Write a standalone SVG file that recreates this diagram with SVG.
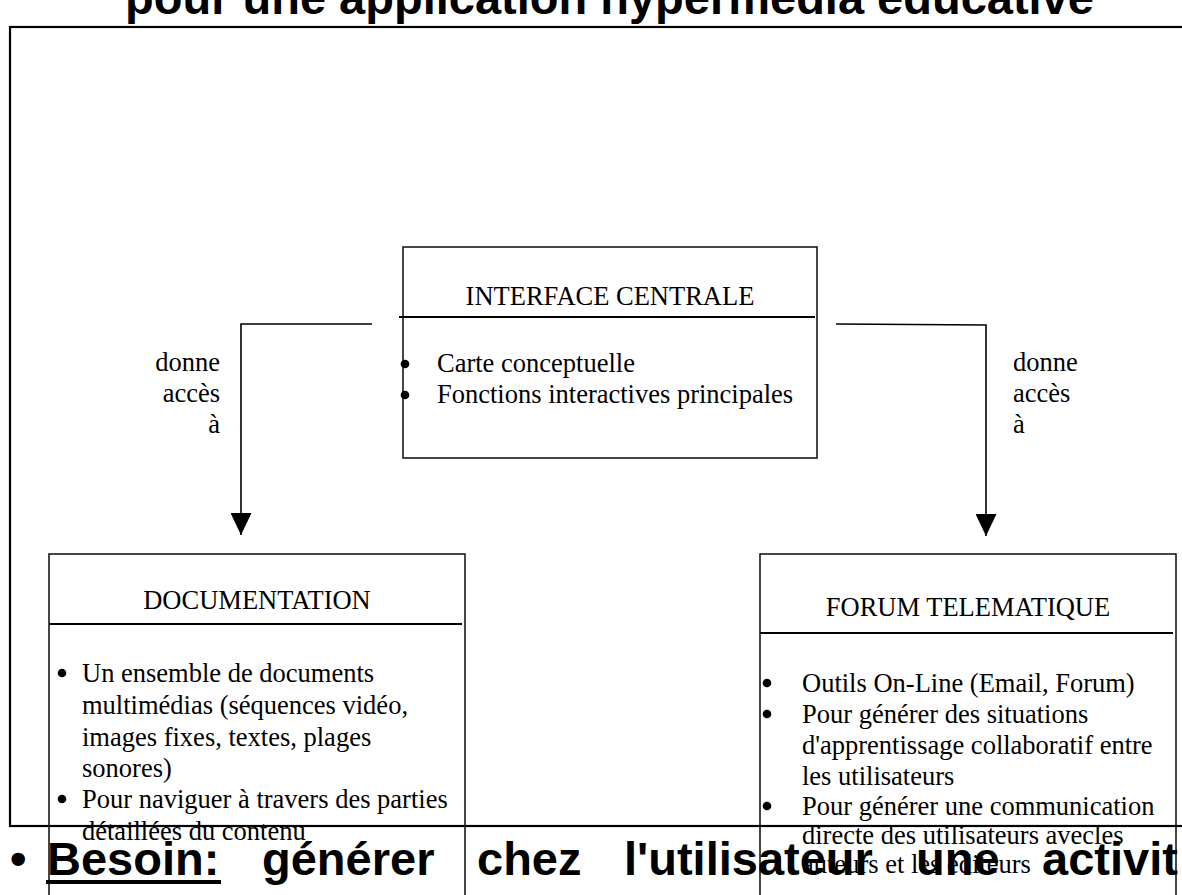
<svg xmlns="http://www.w3.org/2000/svg" width="1182" height="895" viewBox="0 0 1182 895">
<defs>
<style>
.serif{font-family:"Liberation Serif","Times New Roman",serif;font-size:26.5px;fill:#000}
.mid{text-anchor:middle}
.end{text-anchor:end}
.bold{font-family:"Liberation Sans",Arial,sans-serif;font-weight:bold;font-size:47px;fill:#000}
.box{fill:none;stroke:#1a1a1a;stroke-width:1.6}
.sep{stroke:#000;stroke-width:2.2}
.frame{fill:none;stroke:#000;stroke-width:2.2}
.conn{fill:none;stroke:#000;stroke-width:1.6}
.dot{fill:#000}
</style>
<marker id="arrow" viewBox="0 0 22 21" refX="22" refY="10.5" markerWidth="22" markerHeight="21" markerUnits="userSpaceOnUse" orient="auto">
<path d="M0,0 L22,10.5 L0,21 z" fill="#000"/>
</marker>
</defs>
<rect width="1182" height="895" fill="#fff"/>

<g id="title">
<text class="bold" x="125" y="14">pour une application hypermédia éducative</text>
</g>

<g id="frame">
<rect class="frame" x="10" y="27" width="1190" height="799"/>
</g>

<g id="interface">
<rect class="box" x="403" y="247" width="414" height="211"/>
<text class="serif mid" x="610" y="305">INTERFACE CENTRALE</text>
<line class="sep" x1="399" y1="317" x2="815" y2="317"/>
<circle class="dot" cx="405" cy="364" r="4.3"/>
<text class="serif" x="437" y="372">Carte conceptuelle</text>
<circle class="dot" cx="405" cy="395" r="4.3"/>
<text class="serif" x="437" y="403">Fonctions interactives principales</text>
</g>

<g id="documentation">
<rect class="box" x="49" y="554" width="416" height="360"/>
<text class="serif mid" x="257" y="609">DOCUMENTATION</text>
<line class="sep" x1="49" y1="624" x2="462" y2="624"/>
<circle class="dot" cx="62" cy="673" r="4.3"/>
<text class="serif" x="82" y="682">Un ensemble de documents</text>
<text class="serif" x="82" y="714">multimédias (séquences vidéo,</text>
<text class="serif" x="82" y="746">images fixes, textes, plages</text>
<text class="serif" x="82" y="777">sonores)</text>
<circle class="dot" cx="62" cy="799" r="4.3"/>
<text class="serif" x="82" y="808">Pour naviguer à travers des parties</text>
<text class="serif" x="82" y="840">détaillées du contenu</text>
</g>

<g id="forum">
<rect class="box" x="760" y="554" width="416" height="360"/>
<text class="serif mid" x="968" y="616">FORUM TELEMATIQUE</text>
<line class="sep" x1="760" y1="633" x2="1173" y2="633"/>
<circle class="dot" cx="767" cy="683" r="4.3"/>
<text class="serif" x="802" y="692">Outils On-Line (Email, Forum)</text>
<circle class="dot" cx="767" cy="714" r="4.3"/>
<text class="serif" x="802" y="723">Pour générer des situations</text>
<text class="serif" x="802" y="754">d'apprentissage collaboratif entre</text>
<text class="serif" x="802" y="785">les utilisateurs</text>
<circle class="dot" cx="767" cy="806" r="4.3"/>
<text class="serif" x="802" y="815">Pour générer une communication</text>
<text class="serif" x="802" y="844">directe des utilisateurs avecles</text>
<text class="serif" x="802" y="873">auteurs et les éditeurs</text>
</g>

<g id="connectors">
<polyline class="conn" points="372,324 241,324 241,535" marker-end="url(#arrow)"/>
<polyline class="conn" points="836,324 986,325 986,536" marker-end="url(#arrow)"/>
<g id="label-left">
<text class="serif end" x="220" y="371">donne</text>
<text class="serif end" x="220" y="402">accès</text>
<text class="serif end" x="220" y="433">à</text>
</g>
<g id="label-right">
<text class="serif" x="1013" y="371">donne</text>
<text class="serif" x="1013" y="402">accès</text>
<text class="serif" x="1013" y="433">à</text>
</g>
</g>

<g id="besoin">
<text class="bold" x="10" y="875">•</text>
<text class="bold" y="875"><tspan x="47">Besoin:</tspan><tspan x="262">générer</tspan><tspan x="477">chez</tspan><tspan x="624">l'utilisateur</tspan><tspan x="916">une</tspan><tspan x="1042">activit</tspan></text>
<line x1="46" y1="882" x2="221" y2="882" stroke="#000" stroke-width="4"/>
</g>
</svg>
